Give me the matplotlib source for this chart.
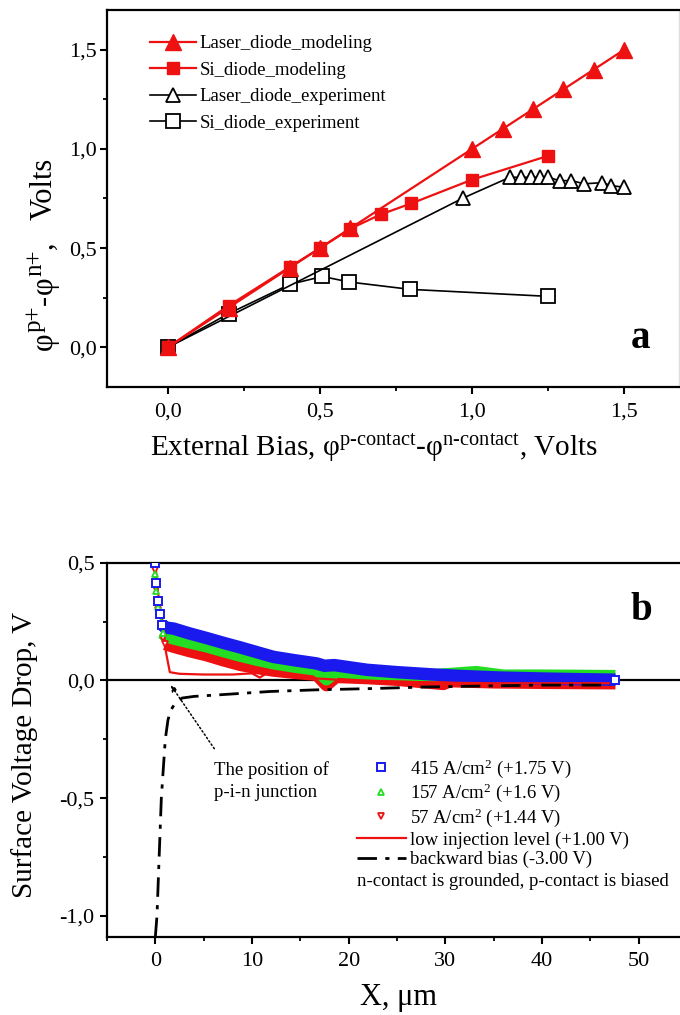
import matplotlib
matplotlib.use("Agg")
import matplotlib.pyplot as plt
from matplotlib.ticker import MultipleLocator, FuncFormatter

plt.rcParams['font.family'] = ['Liberation Serif', 'DejaVu Serif']
plt.rcParams['mathtext.fontset'] = 'custom'
plt.rcParams['mathtext.rm'] = 'Liberation Serif'
plt.rcParams['mathtext.it'] = 'Liberation Serif:italic'
plt.rcParams['mathtext.default'] = 'regular'

# ---------------- Panel a data ----------------
laser_model_x = [0.0, 0.2, 0.4, 0.5, 0.6, 1.0, 1.1, 1.2, 1.3, 1.4, 1.5]
laser_model_y = [0.0, 0.2, 0.4, 0.5, 0.6, 1.0, 1.1, 1.2, 1.3, 1.4, 1.5]
si_model_x = [0.0, 0.2, 0.4, 0.5, 0.6, 0.7, 0.8, 1.0, 1.25]
si_model_y = [0.0, 0.21, 0.404, 0.5, 0.598, 0.67, 0.725, 0.845, 0.965]
laser_exp_x = [0.0, 0.97, 1.124, 1.162, 1.195, 1.222, 1.249, 1.288, 1.326, 1.369, 1.428, 1.456, 1.5]
laser_exp_y = [0.0, 0.752, 0.857, 0.857, 0.857, 0.857, 0.857, 0.84, 0.84, 0.824, 0.83, 0.815, 0.807]
si_exp_x = [0.0, 0.2, 0.4, 0.508, 0.597, 0.797, 1.248]
si_exp_y = [0.0, 0.17, 0.317, 0.357, 0.329, 0.292, 0.257]
labels_a = ['Laser_diode_modeling', 'Si_diode_modeling',
            'Laser_diode_experiment', 'Si_diode_experiment']

# ---------------- Panel b data ----------------
x_415 = [0.0, 0.07, 0.28, 0.52, 0.69, 1.0, 1.9, 3.5, 5.3, 7.0, 8.8, 10.5, 12.2,
         14.5, 16.7, 17.5, 18.5, 21.9, 25.0, 28.8, 32.0, 35.7, 40.0, 44.0, 47.6]
y_415 = [0.5, 0.414, 0.336, 0.28, 0.237, 0.225, 0.22, 0.20, 0.18, 0.16, 0.14, 0.12, 0.10,
         0.085, 0.072, 0.062, 0.065, 0.045, 0.035, 0.025, 0.018, 0.012, 0.008, 0.005, 0.003]
x_157 = [0.0, 0.1, 0.3, 0.55, 0.8, 1.0, 1.9, 3.5, 5.3, 7.0, 8.8, 10.5, 12.2,
         14.5, 16.7, 17.7, 18.7, 21.9, 25.0, 28.8, 33.2, 36.0, 40.0, 44.0, 47.6]
y_157 = [0.45, 0.38, 0.31, 0.25, 0.20, 0.19, 0.178, 0.162, 0.145, 0.125, 0.105, 0.088, 0.073,
         0.058, 0.046, 0.005, 0.038, 0.03, 0.026, 0.022, 0.035, 0.02, 0.02, 0.019, 0.018]
x_57 = [0.0, 0.1, 0.3, 0.55, 0.8, 1.0, 1.9, 3.5, 5.3, 7.0, 8.8, 10.5, 12.2,
        14.5, 16.7, 17.7, 18.7, 21.9, 25.0, 29.8, 30.5, 35.0, 40.0, 44.0, 47.6]
y_57 = [0.47, 0.39, 0.30, 0.24, 0.18, 0.155, 0.143, 0.125, 0.107, 0.086, 0.066, 0.053, 0.042,
        0.032, 0.024, -0.02, 0.015, 0.01, 0.003, -0.015, -0.003, -0.008, -0.01, -0.011, -0.012]
x_low = [0.0, 0.2, 0.5, 0.8, 1.1, 1.5, 2.5, 5.0, 8.0, 10.0, 10.8, 11.5, 13.0,
         16.0, 20.0, 25.0, 30.0, 35.0, 40.0, 47.5]
y_low = [0.5, 0.4, 0.3, 0.24, 0.12, 0.035, 0.028, 0.025, 0.025, 0.03, 0.012, 0.03, 0.02,
         0.01, 0.0, -0.005, -0.01, -0.012, -0.012, -0.012]
x_back = [0.0, 0.17, 0.62, 1.03, 1.3, 1.55, 2.0, 2.76, 4.0, 6.7, 11.9, 16.7, 22.0,
          28.0, 35.0, 40.0, 47.0]
y_back = [-1.09, -1.0, -0.5, -0.25, -0.17, -0.13, -0.1, -0.075, -0.068, -0.061, -0.047,
          -0.04, -0.035, -0.028, -0.023, -0.02, -0.02]
labels_b = ['415 A/cm$^2$ (+1.75 V)', '157 A/cm$^2$ (+1.6 V)', '57 A/cm$^2$ (+1.44 V)',
            'low injection level (+1.00 V)', 'backward bias (-3.00 V)']

W, H = 680, 1015
fig = plt.figure(figsize=(W / 100, H / 100), dpi=100)
renderer = fig.canvas.get_renderer()

def comma(v, pos):
    s = f'{v:.1f}'.replace('.', ',')
    if s == '-0,0':
        s = '0,0'
    return s

def style(ax):
    for sp in ax.spines.values():
        sp.set_linewidth(1.6)
    ax.tick_params(which='major', direction='out', length=5, width=1.5, labelsize=16)
    ax.tick_params(which='minor', direction='out', length=3, width=1.3)

# ---------------- Panel a ----------------
ax1 = fig.add_axes([107 / W, 1 - 387 / H, (679 - 107) / W, (387 - 10) / H])
style(ax1)
ax1.spines['right'].set_color('#dddddd')
ax1.spines['right'].set_linewidth(1.0)
ax1.tick_params(axis='x', pad=6)
ax1.tick_params(axis='y', pad=2)
red = '#ee1111'
h1, = ax1.plot(laser_model_x, laser_model_y, '-', color=red, lw=1.6, marker='^',
               ms=11, mfc=red, mec=red, zorder=3)
h4, = ax1.plot(si_exp_x, si_exp_y, '-', color='k', lw=1.2, marker='s', ms=9.5,
               mfc='white', mec='k', mew=1.3, zorder=2)
h3, = ax1.plot(laser_exp_x, laser_exp_y, '-', color='k', lw=1.2, marker='^', ms=10,
               mfc='white', mec='k', mew=1.3, zorder=2)
h2, = ax1.plot(si_model_x, si_model_y, '-', color=red, lw=1.6, marker='s', ms=9,
               mfc=red, mec=red, zorder=4)
ax1.set_xlim(-0.2, 1.68)
ax1.set_ylim(-0.2, 1.7)
ax1.xaxis.set_major_locator(MultipleLocator(0.5))
ax1.xaxis.set_minor_locator(MultipleLocator(0.25))
ax1.yaxis.set_major_locator(MultipleLocator(0.5))
ax1.yaxis.set_minor_locator(MultipleLocator(0.25))
ax1.xaxis.set_major_formatter(FuncFormatter(comma))
ax1.yaxis.set_major_formatter(FuncFormatter(comma))
ax1.legend([h1, h2, h3, h4], labels_a, loc='upper left',
           bbox_to_anchor=(150 / W, 1 - 35 / H), bbox_transform=fig.transFigure,
           frameon=False, fontsize=13.5, handlelength=2.45, handletextpad=0.2,
           labelspacing=0.5, borderaxespad=0, borderpad=0)
ax1.text(640 / W, 1 - 338 / H, 'a', transform=fig.transFigure, fontsize=28,
         fontweight='bold', ha='center', va='center')
fig.text(374 / W, 1 - 448 / H,
         r'External Bias, $φ^{\text{p-contact}}$-$φ^{\text{n-contact}}$, Volts',
         fontsize=21, ha='center', va='center')

# rotated y label of panel a, composed piece by piece (large superscripts)
pieces = [('φ', 22, 0), ('p+', 18, 11), ('-', 22, 0), ('φ', 22, 0), ('n+', 18, 11),
          (',', 22, 0), ('Volts', 22, 0)]
gaps = [0, 0, 1, 1, 0, 0, 22]
base_x = 52.0      # baseline x in pixels
cur_y = 350.0      # start (bottom) in pixels from top
for (txt, size, raise_px), gap in zip(pieces, gaps):
    cur_y -= gap
    t = fig.text((base_x - raise_px) / W, 1 - cur_y / H, txt, fontsize=size,
                 rotation=90, rotation_mode='anchor', ha='left', va='baseline')
    bb = t.get_window_extent(renderer)
    cur_y -= bb.height

# ---------------- Panel b ----------------
ax2 = fig.add_axes([107 / W, 1 - 937 / H, (687 - 107) / W, (937 - 562.7) / H])
style(ax2)
ax2.tick_params(axis='x', pad=6)
ax2.tick_params(axis='y', pad=4)
ax2.axhline(0, color='k', lw=1.6, zorder=1)
blue = '#1a1aee'
green = '#22dd22'
red2 = '#ee1111'
band = 9
# bands (dense overlapping markers in the original)
ax2.plot(x_57[5:], y_57[5:], '-', color=red2, lw=band, solid_capstyle='butt', zorder=2)
ax2.plot(x_157[4:], y_157[4:], '-', color=green, lw=band, solid_capstyle='butt', zorder=3)
ax2.plot(x_415[4:], y_415[4:], '-', color=blue, lw=band, solid_capstyle='butt', zorder=4)
hl, = ax2.plot(x_low, y_low, '-', color=red2, lw=1.6, zorder=5)
hb, = ax2.plot(x_back, y_back, color='k', lw=2.0, dashes=(7, 3, 1.5, 3), zorder=5)
hr, = ax2.plot(x_57[:6], y_57[:6], 'v', ls='none', ms=5, mfc='white', mec=red2,
               mew=1.3, zorder=5)
hg, = ax2.plot(x_157[:5], y_157[:5], '^', ls='none', ms=5, mfc='white', mec=green,
               mew=1.3, zorder=6)
hs, = ax2.plot(x_415[:5] + x_415[-1:], y_415[:5] + y_415[-1:], 's', ls='none', ms=5.5,
               mfc='white', mec=blue, mew=1.4, zorder=7)
ax2.set_xlim(-5, 55)
ax2.set_ylim(-1.09, 0.5)
ax2.xaxis.set_major_locator(MultipleLocator(10))
ax2.xaxis.set_minor_locator(MultipleLocator(5))
ax2.yaxis.set_major_locator(MultipleLocator(0.5))
ax2.yaxis.set_minor_locator(MultipleLocator(0.25))
ax2.yaxis.set_major_formatter(FuncFormatter(comma))
ax2.legend([hs, hg, hr, hl, hb], labels_b, loc='upper left',
           bbox_to_anchor=(357 / W, 1 - 757 / H), bbox_transform=fig.transFigure,
           frameon=False, fontsize=13.5, handlelength=2.6, handletextpad=0.2,
           labelspacing=0.12, borderaxespad=0, borderpad=0)
fig.text(357 / W, 1 - 882 / H, 'n-contact is grounded, p-contact is biased',
         fontsize=13.5, ha='left', va='center')
ax2.annotate('', xy=(1.6, -0.02), xytext=(6.1, -0.29),
             arrowprops=dict(arrowstyle='-|>', linestyle=':', lw=1.1, color='k',
                             shrinkA=0, shrinkB=0, mutation_scale=9))
fig.text(214 / W, 1 - 781 / H, 'The position of\np-i-n junction', fontsize=13.5,
         ha='left', va='center', linespacing=1.45)
fig.text(641 / W, 1 - 611 / H, 'b', fontsize=28, fontweight='bold',
         ha='center', va='center')
fig.text(399 / W, 1 - 998 / H, 'X, μm', fontsize=22, ha='center', va='center')
fig.text(25 / W, 1 - 755 / H, 'Surface Voltage Drop, V', fontsize=21, rotation=90,
         ha='center', va='center')

fig.savefig('out.png', dpi=100)
